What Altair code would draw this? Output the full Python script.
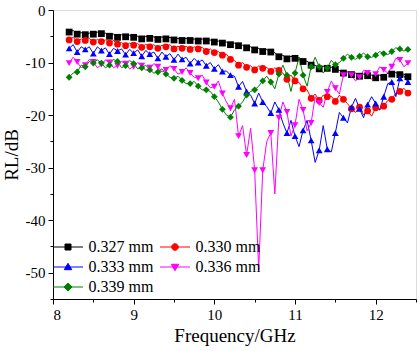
import altair as alt
import pandas as pd

series = ["0.327 mm", "0.330 mm", "0.333 mm", "0.336 mm", "0.339 mm"]
colors = ["#000000", "#FF0000", "#0000FF", "#FF00FF", "#008000"]
shapes = ["square", "circle", "triangle-up", "triangle-down", "diamond"]

freq = [8.2, 8.3, 8.4, 8.5, 8.6, 8.7, 8.8, 8.9, 9.0, 9.1, 9.2, 9.3, 9.4, 9.5, 9.6,
        9.7, 9.8, 9.9, 10.0, 10.1, 10.2, 10.3, 10.4, 10.5, 10.6, 10.7, 10.8, 10.9,
        11.0, 11.1, 11.2, 11.3, 11.4, 11.5, 11.6, 11.7, 11.8, 11.9, 12.0, 12.1,
        12.2, 12.3, 12.4]

# values at the marker positions
rl_327 = [-4.2, -4.6, -4.7, -4.6, -4.5, -5.0, -5.2, -5.1, -5.2, -5.5, -5.4, -5.6, -5.5, -5.7,
          -5.8, -5.8, -5.9, -5.9, -6.1, -6.3, -6.6, -6.8, -7.2, -7.6, -7.9, -8.0, -8.9, -9.3,
          -9.2, -9.8, -10.5, -11.2, -11.1, -11.3, -12.0, -12.3, -12.6, -12.5, -12.9, -12.8,
          -12.2, -12.3, -12.7]
rl_330 = [-5.7, -6.0, -5.8, -6.1, -6.0, -6.3, -6.5, -6.8, -6.7, -7.1, -7.0, -7.3, -7.0, -7.4,
          -7.3, -7.5, -7.4, -7.9, -8.1, -8.6, -9.4, -10.5, -10.9, -11.4, -11.1, -11.7, -11.5,
          -13.2, -13.5, -15.0, -16.8, -17.2, -16.5, -17.4, -17.0, -18.8, -18.5, -19.2, -18.6,
          -18.3, -17.0, -15.5, -15.8]
rl_333 = [-7.3, -8.0, -7.5, -8.3, -7.7, -8.4, -7.8, -8.5, -8.2, -8.8, -8.4, -9.2, -8.9, -9.5,
          -9.4, -10.2, -10.0, -10.6, -11.2, -11.7, -12.4, -14.6, -15.5, -17.8, -17.5, -19.6,
          -19.0, -23.4, -24.0, -22.9, -24.8, -26.7, -26.5, -23.4, -20.5, -18.5, -18.8, -18.0,
          -17.8, -16.5, -13.7, -13.0, -13.7]
rl_336 = [-10.1, -9.9, -10.5, -9.9, -10.4, -10.0, -10.6, -10.2, -10.8, -10.6, -11.0, -10.8,
          -11.4, -11.2, -11.8, -12.0, -13.0, -13.8, -14.6, -15.9, -18.7, -24.0, -27.6, -30.5,
          -30.5, -23.4, -20.5, -19.4, -21.9, -19.0, -21.5, -17.7, -15.6, -14.9, -12.4, -12.4,
          -12.8, -12.0, -12.2, -11.4, -10.8, -9.5, -10.1]
rl_339 = [-12.8, -11.8, -10.8, -10.1, -10.1, -10.5, -9.8, -10.6, -10.2, -11.0, -11.4, -11.8,
          -12.2, -13.0, -13.4, -14.0, -14.5, -15.2, -16.5, -18.9, -20.4, -18.3, -16.2, -15.2,
          -13.5, -13.7, -12.2, -12.4, -12.0, -12.4, -10.8, -10.8, -11.0, -10.4, -9.2, -9.0,
          -8.8, -8.9, -8.6, -8.3, -7.9, -7.4, -7.5]

# values half-way between markers (the ripple)
mid_327 = [-3.9, -4.3, -4.4, -4.2, -4.4, -4.6, -4.7, -4.8, -5.0, -5.0, -5.1, -5.1, -5.2, -5.4,
           -5.4, -5.5, -5.5, -5.7, -5.9, -6.1, -6.3, -6.7, -7.0, -7.3, -7.5, -8.1, -8.6, -8.8,
           -9.1, -9.7, -10.5, -10.7, -10.9, -11.5, -11.8, -12.0, -12.2, -12.4, -12.4, -12.0,
           -11.9, -12.2]
mid_330 = [-5.2, -5.5, -5.4, -5.6, -5.7, -5.8, -6.2, -6.3, -6.4, -6.5, -6.6, -6.7, -6.6, -6.9,
           -6.9, -7.0, -7.1, -7.4, -7.9, -8.4, -9.6, -10.0, -10.6, -10.6, -10.9, -11.0, -12.0,
           -12.4, -13.8, -15.2, -16.0, -16.2, -16.4, -16.2, -17.8, -19.5, -20.0, -20.2, -19.0,
           -17.2, -15.8, -14.9]
mid_333 = [-6.6, -7.0, -7.0, -7.0, -7.2, -7.3, -7.4, -7.5, -7.6, -7.7, -8.0, -8.0, -8.3, -8.4,
           -9.0, -9.2, -9.5, -10.0, -10.4, -11.6, -12.6, -13.6, -16.2, -15.8, -18.4, -17.5,
           -21.5, -21.0, -26.0, -21.0, -29.0, -22.0, -27.0, -19.5, -21.5, -16.8, -20.5, -16.5,
           -19.0, -14.0, -16.5, -12.5]
mid_336 = [-9.0, -11.0, -9.4, -11.0, -9.5, -11.0, -9.8, -11.2, -10.0, -11.5, -10.2, -11.8,
           -10.6, -12.2, -11.0, -12.8, -12.4, -14.8, -13.5, -17.5, -17.0, -22.0, -22.5, -49.5,
           -25.0, -35.0, -17.5, -24.0, -17.0, -23.0, -16.5, -18.5, -13.5, -16.0, -11.6, -13.5,
           -11.5, -13.2, -10.8, -12.0, -9.2, -10.8]
mid_339 = [-12.0, -10.5, -9.8, -9.5, -11.0, -9.4, -11.0, -9.6, -11.2, -10.5, -12.0, -11.2,
           -12.8, -12.6, -14.0, -13.6, -15.2, -15.5, -17.5, -20.0, -19.0, -17.5, -15.5, -14.5,
           -12.6, -15.0, -10.5, -15.5, -9.0, -14.5, -9.0, -12.0, -9.6, -10.0, -8.4, -9.4,
           -8.2, -9.0, -7.9, -8.5, -7.2, -7.8]

markers = [rl_327, rl_330, rl_333, rl_336, rl_339]
mids = [mid_327, mid_330, mid_333, mid_336, mid_339]

rows = []
for name, mk, md in zip(series, markers, mids):
    for i, f in enumerate(freq):
        rows.append({"f": f, "RL": mk[i], "series": name, "m": 1})
        if i < len(md):
            rows.append({"f": (f + freq[i + 1]) / 2, "RL": md[i], "series": name, "m": 0})
df = pd.DataFrame(rows)

FONT = "Liberation Serif"
xscale = alt.Scale(domain=[8, 12.5], nice=False, zero=False)
yscale = alt.Scale(domain=[-55, 0], nice=False, zero=False)
color_scale = alt.Scale(domain=series, range=colors)

axis_common = dict(domainColor="black", tickColor="black", labelColor="black",
                   labelFont=FONT, labelFontSize=15, titleFont=FONT, titleFontSize=19,
                   titleFontWeight="normal", titleColor="black", grid=False,
                   domainWidth=1, tickWidth=1)

x_main = alt.X("f:Q", scale=xscale,
               axis=alt.Axis(values=[8, 9, 10, 11, 12], title="Frequency/GHz", orient="bottom",
                             tickSize=5, labelPadding=3, titlePadding=4, **axis_common))
y_main = alt.Y("RL:Q", scale=yscale,
               axis=alt.Axis(values=[-50, -40, -30, -20, -10, 0], title="RL/dB", orient="left",
                             tickSize=5, labelPadding=3, titlePadding=4,
                             labelExpr="datum.value + ''", **axis_common))
x_hidden = alt.X("f:Q", scale=xscale, axis=None)
y_hidden = alt.Y("RL:Q", scale=yscale, axis=None)

base = alt.Chart(df)

lines = base.mark_line(strokeWidth=1).encode(
    x=x_main, y=y_main, order="f:Q",
    color=alt.Color("series:N", scale=color_scale, legend=None))

points = base.transform_filter("datum.m == 1").mark_point(
    filled=True, size=46, opacity=1, strokeWidth=0).encode(
    x=x_hidden, y=y_hidden,
    color=alt.Color("series:N", scale=color_scale, legend=None),
    shape=alt.Shape("series:N", scale=alt.Scale(domain=series, range=shapes), legend=None))

# legend entries: a line segment with the marker in its middle
L = 5
legend_paths = [
    f"M-{L},0H{L}M-1,-1H1V1H-1Z",
    f"M-{L},0H{L}M-1.1,0A1.1,1.1 0 1,0 1.1,0A1.1,1.1 0 1,0 -1.1,0Z",
    f"M-{L},0H{L}M0,-1.25L1.25,0.9H-1.25Z",
    f"M-{L},0H{L}M0,1.25L1.25,-0.9H-1.25Z",
    f"M-{L},0H{L}M0,-1.35L1.35,0L0,1.35L-1.35,0Z",
]
leg = alt.Legend(orient="none", legendX=7, legendY=229, columns=2, direction="horizontal",
                 title=None, labelFont=FONT, labelFontSize=16, labelColor="black",
                 symbolSize=36, symbolStrokeWidth=1, labelOffset=12.5, columnPadding=4,
                 rowPadding=4, padding=0, labelLimit=0)
legend_layer = base.transform_filter("false").mark_point(filled=True, opacity=1).encode(
    x=x_hidden, y=y_hidden,
    fill=alt.Fill("series:N", scale=color_scale, legend=leg),
    stroke=alt.Stroke("series:N", scale=color_scale, legend=leg),
    shape=alt.Shape("series:N", scale=alt.Scale(domain=series, range=legend_paths),
                    legend=leg))

minor_common = dict(labels=False, domain=False, tickColor="black", tickSize=3, tickWidth=1,
                    grid=False, title=None)
minor = base.transform_filter("false").mark_point().encode(
    x=alt.X("f:Q", scale=xscale,
            axis=alt.Axis(values=[8.5, 9.5, 10.5, 11.5, 12.5], orient="bottom", **minor_common)),
    y=alt.Y("RL:Q", scale=yscale,
            axis=alt.Axis(values=[-55, -45, -35, -25, -15, -5], orient="left", **minor_common)))

chart = alt.layer(lines, points, legend_layer, minor).resolve_scale(
    shape="independent").resolve_legend(
    fill="independent", stroke="independent", shape="independent").resolve_axis(
    x="independent", y="independent").properties(
    width=363, height=289,
    autosize=alt.AutoSizeParams(type="none"),
    padding={"left": 53, "top": 10, "right": 3, "bottom": 52},
).configure_view(stroke="black", strokeWidth=1).configure(background="white")

chart.save("out.html", embed_options={"renderer": "svg", "actions": False})
